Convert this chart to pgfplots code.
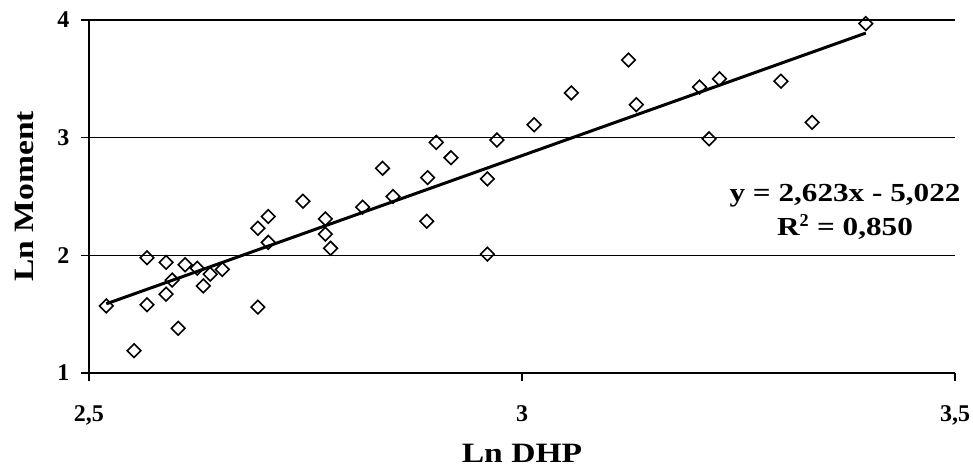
\documentclass[border=0pt]{standalone}
\usepackage{fontspec}
\setmainfont{Liberation Serif}
\newfontfamily\widefont[FakeStretch=1.2]{Liberation Serif}
\usepackage{pgfplots}
\pgfplotsset{compat=1.18}

\begin{document}
\begin{tikzpicture}
  \begin{axis}[
    name=ax,
    scale only axis,
    width=866pt, height=353pt,
    xmin=2.5, xmax=3.5,
    ymin=1, ymax=4,
    xtick={2.5,3,3.5},
    ytick={1,2,3,4},
    axis x line*=bottom,
    axis y line*=left,
    axis line style={line width=1.6pt, -},
    tick style={line width=1.2pt, black},
    major tick length=8pt,
    tick align=outside,
    ymajorgrids,
    grid style={line width=1.6pt, black},
    /pgf/number format/use comma,
    /pgf/number format/assume math mode=true,
    tick label style={font=\fontsize{24}{27}\selectfont\bfseries},
    xticklabel style={yshift=-21pt},
    yticklabel style={xshift=-8pt},
    xlabel={Ln DHP},
    ylabel={Ln Moment},
    every axis x label/.style={at={(axis description cs:0.5,0)}, anchor=center,
      yshift=-80pt, font=\fontsize{28}{32}\widefont\bfseries},
    every axis y label/.style={at={(axis description cs:0,0.5)}, anchor=center,
      rotate=90, yshift=65pt, font=\fontsize{28}{32}\widefont\bfseries},
    clip=false,
  ]
    % measured points
    \addplot[only marks, mark=square, mark size=4.8pt,
      mark options={rotate=45, line width=1.6pt, fill=white}, black]
      table {
      x     y
      2.520 1.57
      2.552 1.19
      2.567 1.98
      2.567 1.58
      2.589 1.94
      2.589 1.67
      2.596 1.79
      2.603 1.38
      2.611 1.92
      2.625 1.89
      2.632 1.74
      2.640 1.84
      2.654 1.88
      2.695 2.23
      2.695 1.56
      2.707 2.33
      2.707 2.11
      2.747 2.46
      2.773 2.31
      2.773 2.18
      2.779 2.06
      2.816 2.41
      2.839 2.74
      2.851 2.50
      2.890 2.29
      2.891 2.66
      2.901 2.96
      2.918 2.83
      2.960 2.65
      2.960 2.01
      2.971 2.98
      3.014 3.11
      3.057 3.38
      3.123 3.66
      3.132 3.28
      3.205 3.43
      3.228 3.50
      3.216 2.99
      3.299 3.48
      3.335 3.13
      3.397 3.97
      };
    % linear trend line
    \addplot[black, line width=3pt] coordinates {(2.520,1.588) (3.397,3.889)};
    \node[align=center, font=\fontsize{26}{34}\widefont\bfseries]
      at (axis cs:3.373,2.37) {y = 2,623x - 5,022\\R$^{\mathbf{2}}$ = 0,850};
  \end{axis}
  \pgfresetboundingbox
  \path ([xshift=-89pt,yshift=-99pt]ax.south west) rectangle ([xshift=18pt,yshift=20pt]ax.north east);
\end{tikzpicture}
\end{document}
